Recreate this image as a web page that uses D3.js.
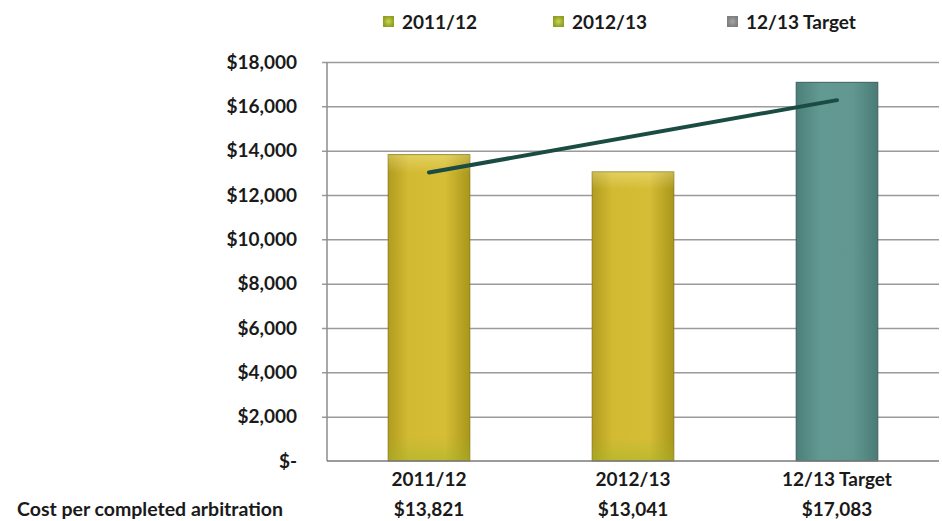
<!DOCTYPE html>
<html>
<head>
<meta charset="utf-8">
<script src="https://cdn.jsdelivr.net/npm/d3@7"></script>
<style>
  html, body { margin: 0; padding: 0; background: #ffffff; }
  svg { display: block; }
  text { font-family: Lato, "Open Sans", sans-serif; font-weight: 700; fill: #1a1a1a; }
</style>
</head>
<body>
<svg id="chart" width="942" height="521"></svg>
<script>
// Cost per completed arbitration, by year
const categories = ["2011/12", "2012/13", "12/13 Target"];
const costValues = [13821, 13041, 17083];
const costLabels = ["$13,821", "$13,041", "$17,083"];
const seriesKinds = ["actual", "actual", "target"];
// Linear trend across the three bars (first and last category)
const trendValues = [13017, 16279];
const yTicks = [0, 2000, 4000, 6000, 8000, 10000, 12000, 14000, 16000, 18000];
const rowTitle = "Cost per completed arbitration";

const svg = d3.select("#chart");
const plot = { left: 327, right: 939, top: 62, bottom: 461 };

const x = d3.scaleBand()
  .domain(categories)
  .range([plot.left, plot.right])
  .paddingInner(0.6)
  .paddingOuter(0.3);

const y = d3.scaleLinear()
  .domain([0, 18000])
  .range([plot.bottom, plot.top]);

// Gradients for the bars and legend swatches
const defs = svg.append("defs");
function hGrad(id, stops) {
  const g = defs.append("linearGradient").attr("id", id)
    .attr("x1", "0%").attr("x2", "100%").attr("y1", "0%").attr("y2", "0%");
  stops.forEach(s => g.append("stop").attr("offset", s[0]).attr("stop-color", s[1]));
}
hGrad("goldGrad", [["0%", "#b29c1e"], ["25%", "#d3ba33"], ["70%", "#d6bd36"], ["100%", "#a99619"]]);
hGrad("tealGrad", [["0%", "#4c7f7a"], ["30%", "#639993"], ["70%", "#619790"], ["100%", "#4a7b76"]]);
const vg = defs.append("linearGradient").attr("id", "goldShade")
  .attr("x1", "0%").attr("x2", "0%").attr("y1", "0%").attr("y2", "100%");
vg.append("stop").attr("offset", "0%").attr("stop-color", "#fff6b0").attr("stop-opacity", 0.35);
vg.append("stop").attr("offset", "6%").attr("stop-color", "#fff6b0").attr("stop-opacity", 0);
vg.append("stop").attr("offset", "92%").attr("stop-color", "#9db52a").attr("stop-opacity", 0);
vg.append("stop").attr("offset", "100%").attr("stop-color", "#9db52a").attr("stop-opacity", 0.45);
const lg = defs.append("radialGradient").attr("id", "legendGold");
lg.append("stop").attr("offset", "0%").attr("stop-color", "#c9d455");
lg.append("stop").attr("offset", "100%").attr("stop-color", "#8f9f22");
const lgr = defs.append("radialGradient").attr("id", "legendGrey");
lgr.append("stop").attr("offset", "0%").attr("stop-color", "#a5a5a5");
lgr.append("stop").attr("offset", "100%").attr("stop-color", "#7e7e7e");

// Horizontal gridlines with small outward ticks
svg.append("g")
  .attr("transform", `translate(${plot.left},0)`)
  .call(d3.axisLeft(y).tickValues(yTicks.filter(v => v > 0))
    .tickSize(-(plot.right - plot.left)).tickSizeOuter(0).tickFormat(""))
  .call(g => g.select(".domain").remove())
  .call(g => g.selectAll(".tick line")
    .attr("x1", -5)
    .attr("stroke", "#9a9a9a").attr("stroke-width", 1.5));

// Vertical value axis line
svg.append("line")
  .attr("x1", plot.left).attr("x2", plot.left)
  .attr("y1", plot.top).attr("y2", plot.bottom)
  .attr("stroke", "#8c8c8c").attr("stroke-width", 1.5);

// Value axis labels
svg.append("g").selectAll("text")
  .data(yTicks)
  .join("text")
  .attr("x", 297)
  .attr("y", d => y(d))
  .attr("dy", "0.35em")
  .attr("text-anchor", "end")
  .attr("font-size", 19)
  .text(d => d === 0 ? "$-" : d3.format("$,")(d));

// Bars
const bars = svg.append("g").selectAll("g")
  .data(categories.map((c, i) => ({ c, v: costValues[i], kind: seriesKinds[i] })))
  .join("g");
bars.append("rect")
  .attr("x", d => x(d.c))
  .attr("y", d => y(d.v))
  .attr("width", x.bandwidth())
  .attr("height", d => y(0) - y(d.v))
  .attr("fill", d => d.kind === "target" ? "url(#tealGrad)" : "url(#goldGrad)")
  .attr("stroke", d => d.kind === "target" ? "#3b5f5b" : "#8d7d17")
  .attr("stroke-width", 1);
bars.filter(d => d.kind !== "target").append("rect")
  .attr("x", d => x(d.c))
  .attr("y", d => y(d.v))
  .attr("width", x.bandwidth())
  .attr("height", d => y(0) - y(d.v))
  .attr("fill", "url(#goldShade)");

// Category axis baseline
svg.append("line")
  .attr("x1", plot.left).attr("x2", plot.right)
  .attr("y1", plot.bottom).attr("y2", plot.bottom)
  .attr("stroke", "#7a7a7a").attr("stroke-width", 1.5);

// Trend line
const trendPts = [
  [x(categories[0]) + x.bandwidth() / 2, y(trendValues[0])],
  [x(categories[2]) + x.bandwidth() / 2, y(trendValues[1])]
];
svg.append("path")
  .attr("d", d3.line()(trendPts))
  .attr("stroke", "#1b4c44")
  .attr("stroke-width", 4)
  .attr("stroke-linecap", "round")
  .attr("fill", "none");

// Category labels
svg.append("g").selectAll("text")
  .data(categories)
  .join("text")
  .attr("x", d => x(d) + x.bandwidth() / 2)
  .attr("y", 479)
  .attr("dy", "0.35em")
  .attr("text-anchor", "middle")
  .attr("font-size", 19)
  .text(d => d);

// Data table row
svg.append("text")
  .attr("x", 17)
  .attr("y", 509)
  .attr("dy", "0.35em")
  .attr("font-size", 19)
  .attr("textLength", 266)
  .attr("lengthAdjust", "spacingAndGlyphs")
  .text(rowTitle);
svg.append("g").selectAll("text")
  .data(costLabels)
  .join("text")
  .attr("x", (d, i) => x(categories[i]) + x.bandwidth() / 2)
  .attr("y", 509)
  .attr("dy", "0.35em")
  .attr("text-anchor", "middle")
  .attr("font-size", 19)
  .text(d => d);

// Legend
const legendX = [383, 553, 727];
const legend = svg.append("g").selectAll("g")
  .data(categories)
  .join("g")
  .attr("transform", (d, i) => `translate(${legendX[i]},15)`);
legend.append("rect")
  .attr("width", 11).attr("height", 11).attr("y", 1)
  .attr("fill", (d, i) => seriesKinds[i] === "target" ? "url(#legendGrey)" : "url(#legendGold)");
legend.append("text")
  .attr("x", 19)
  .attr("y", 7)
  .attr("dy", "0.35em")
  .attr("font-size", 19)
  .text(d => d);
</script>
</body>
</html>
